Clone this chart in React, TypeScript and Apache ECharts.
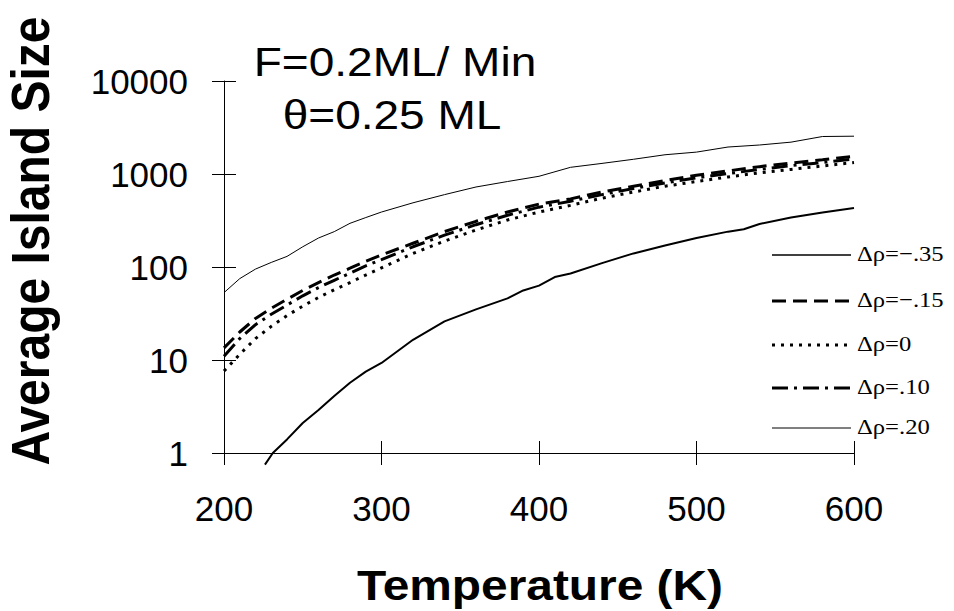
import React, { useEffect, useRef } from "react";
import * as echarts from "echarts";

// Temperatures (K) shared by the four upper series
const temps = [200, 210, 220, 230, 240, 250, 260, 270, 280, 290, 300, 320, 340, 360, 380, 400, 420, 440, 460, 480, 500, 520, 540, 560, 580, 600];

// Δρ = -.15 (dashed)
const dRhoM15 = [13.5, 20, 28, 36, 45, 56, 68, 82, 97, 115, 135, 180, 240, 310, 390, 475, 540, 640, 740, 850, 970, 1080, 1200, 1310, 1420, 1550];
// Δρ = 0 (dotted)
const dRho0 = [7.6, 11.5, 17, 23, 30, 38, 47, 57, 68, 82, 98, 140, 190, 250, 320, 390, 460, 550, 640, 740, 830, 930, 1030, 1120, 1220, 1330];
// Δρ = .10 (dash-dot)
const dRho10 = [11, 17, 24, 31, 39, 49, 60, 72, 86, 103, 120, 165, 220, 285, 360, 440, 510, 600, 700, 800, 910, 1010, 1120, 1230, 1330, 1450];
// Δρ = .20 (thin solid)
const dRho20 = [53, 75, 95, 112, 130, 165, 205, 240, 295, 340, 390, 490, 600, 725, 830, 945, 1180, 1300, 1440, 1610, 1720, 1950, 2050, 2200, 2530, 2550];

// Δρ = -.35 (thick solid) has its own temperatures
const tempsM35 = [226, 231, 240, 250, 260, 270, 280, 290, 300, 320, 340, 360, 380, 390, 400, 410, 420, 440, 460, 480, 500, 520, 530, 540, 560, 580, 600];
const dRhoM35 = [0.75, 1.0, 1.4, 2.1, 2.9, 4.1, 5.7, 7.5, 9.3, 16.5, 26, 35, 46, 56, 63, 78, 85, 110, 140, 170, 205, 240, 255, 290, 340, 385, 430];

const legendLabels = ["Δρ=−.35", "Δρ=−.15", "Δρ=0", "Δρ=.10", "Δρ=.20"];

const xTitle = "Temperature (K)";
const yTitle = "Average Island Size";
const note1 = "F=0.2ML/ Min";
const note2 = "θ=0.25 ML";

const pairs = (xs: number[], ys: number[]) => xs.map((x, i) => [x, ys[i]]);

const styles = [
  { width: 2, legendWidth: 1.5, type: "solid" as any },
  { width: 3, legendWidth: 3, type: [14, 7] as any },
  { width: 3, legendWidth: 3, type: [3, 6] as any },
  { width: 3, legendWidth: 3, type: [16, 6, 3, 6] as any },
  { width: 1, legendWidth: 1, type: "solid" as any },
];

const SANS = "'Liberation Sans', Arial, sans-serif";

export default function App() {
  const ref = useRef<HTMLDivElement>(null);
  useEffect(() => {
    if (!ref.current) return;
    const chart = echarts.init(ref.current, null, { renderer: "svg" });
    const seriesData = [
      pairs(tempsM35, dRhoM35),
      pairs(temps, dRhoM15),
      pairs(temps, dRho0),
      pairs(temps, dRho10),
      pairs(temps, dRho20),
    ];
    const legendY = [255, 301, 345, 388, 428];
    const graphics: any[] = [];
    legendLabels.forEach((lab, i) => {
      graphics.push({
        type: "line",
        shape: { x1: 772, y1: legendY[i], x2: 851, y2: legendY[i] },
        style: { stroke: "#000", lineWidth: styles[i].legendWidth, lineDash: Array.isArray(styles[i].type) ? styles[i].type : null },
      });
      graphics.push({
        type: "text",
        x: 857,
        y: legendY[i] - 2,
        scaleX: 1.12,
        style: { text: lab, fill: "#000", font: "22px 'Liberation Serif', 'Times New Roman', serif", verticalAlign: "middle" },
      });
    });
    graphics.push({
      type: "text", x: 395, y: 62, scaleX: 1.15,
      style: { text: note1, fill: "#000", font: `40px ${SANS}`, align: "center", verticalAlign: "middle" },
    });
    graphics.push({
      type: "text", x: 392, y: 115, scaleX: 1.15,
      style: { text: note2, fill: "#000", font: `40px ${SANS}`, align: "center", verticalAlign: "middle" },
    });
    graphics.push({
      type: "text", x: 540, y: 586, scaleX: 1.14,
      style: { text: xTitle, fill: "#000", font: `bold 42px ${SANS}`, align: "center", verticalAlign: "middle" },
    });
    graphics.push({
      type: "text", x: 31, y: 241, rotation: Math.PI / 2, scaleY: 1.1,
      style: { text: yTitle, fill: "#000", font: `bold 48px ${SANS}`, align: "center", verticalAlign: "middle" },
    });

    const labelFont = { color: "#000", fontSize: 35, fontFamily: SANS };
    chart.setOption({
      animation: false,
      backgroundColor: "#fff",
      grid: { left: 224, top: 81, right: 100, bottom: 158, containLabel: false },
      xAxis: [
        {
          type: "value", min: 200, max: 600, interval: 100, position: "bottom",
          axisLine: { show: true, lineStyle: { color: "#000", width: 1 } },
          axisTick: { show: true, inside: false, length: 12, lineStyle: { color: "#000" } },
          axisLabel: { ...labelFont, margin: 38, formatter: (v: number) => String(v) },
          splitLine: { show: false },
        },
        {
          type: "value", min: 200, max: 600, interval: 100, position: "bottom",
          axisLine: { show: false },
          axisTick: { show: true, inside: true, length: 12, lineStyle: { color: "#000" } },
          axisLabel: { show: false },
          splitLine: { show: false },
        },
      ],
      yAxis: [
        {
          type: "log", logBase: 10, min: 1, max: 10000, position: "left",
          axisLine: { show: true, lineStyle: { color: "#000", width: 1 } },
          axisTick: { show: true, inside: false, length: 12, lineStyle: { color: "#000" } },
          axisLabel: { ...labelFont, margin: 36, formatter: (v: number) => String(Math.round(v)) },
          splitLine: { show: false },
          minorTick: { show: false },
        },
        {
          type: "log", logBase: 10, min: 1, max: 10000, position: "left",
          axisLine: { show: false },
          axisTick: { show: true, inside: true, length: 12, lineStyle: { color: "#000" } },
          axisLabel: { show: false },
          splitLine: { show: false },
        },
      ],
      series: seriesData.map((d, i) => ({
        type: "line",
        name: legendLabels[i],
        data: d,
        xAxisIndex: 0,
        yAxisIndex: 0,
        symbol: "none",
        clip: false,
        smooth: false,
        lineStyle: { color: "#000", width: styles[i].width, type: styles[i].type },
      })),
      graphic: graphics,
    });
    return () => chart.dispose();
  }, []);
  return <div ref={ref} style={{ position: "fixed", left: 0, top: 0, width: 954, height: 611 }} />;
}
